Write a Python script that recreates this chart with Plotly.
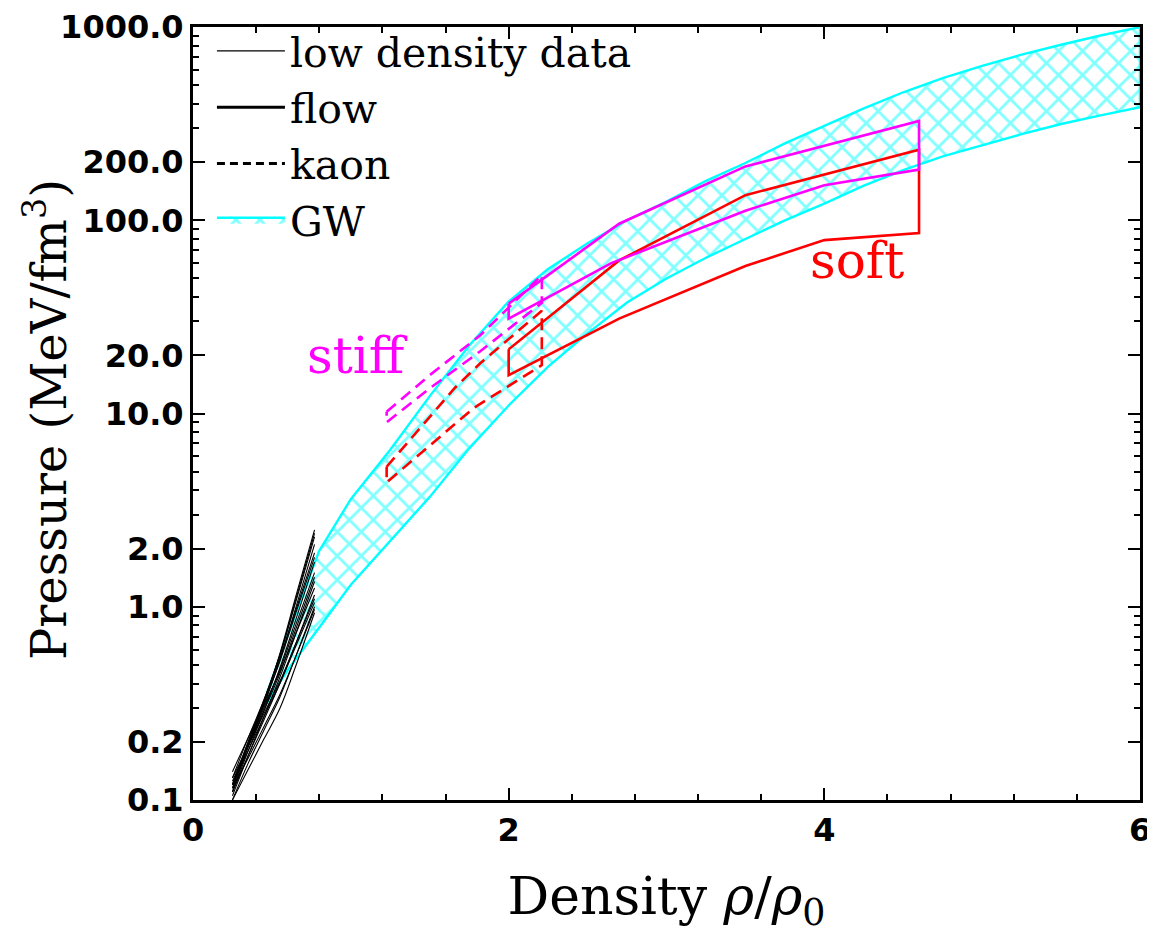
import plotly.graph_objects as go

# ---------------- data ----------------
# GW band (upper / lower boundaries)
gw_x = [0.47, 0.6, 0.8, 1.0, 1.25, 1.5, 1.75, 2.0, 2.25, 2.5, 2.75, 3.0, 3.25, 3.5,
        3.75, 4.0, 4.25, 4.5, 4.75, 5.0, 5.25, 5.5, 5.75, 6.0]
gw_upper = [0.36, 0.71, 1.95, 3.6, 6.5, 12.3, 22.5, 38, 56, 76, 100, 125, 160, 198,
            250, 309, 380, 460, 545, 630, 720, 810, 905, 1000]
gw_lower = [0.32, 0.47, 0.78, 1.3, 2.2, 3.7, 6.6, 11, 17.5, 26, 37.5, 50, 64, 80,
            100, 122, 151, 182, 214, 245, 279, 315, 349, 385]

# low density data curves
ld_x = [0.25, 0.35, 0.45, 0.55, 0.65, 0.77]
ld_curves = [
    [0.11, 0.19, 0.32, 0.57, 1.12, 2.5],
    [0.115, 0.195, 0.325, 0.56, 1.08, 2.4],
    [0.12, 0.20, 0.33, 0.56, 1.05, 2.3],
    [0.115, 0.19, 0.31, 0.53, 0.98, 2.1],
    [0.13, 0.21, 0.33, 0.54, 0.95, 1.9],
    [0.12, 0.20, 0.32, 0.52, 0.92, 1.8],
    [0.11, 0.18, 0.29, 0.48, 0.85, 1.7],
    [0.12, 0.19, 0.30, 0.47, 0.80, 1.5],
    [0.125, 0.19, 0.29, 0.45, 0.76, 1.42],
    [0.105, 0.17, 0.27, 0.43, 0.72, 1.35],
    [0.14, 0.21, 0.31, 0.46, 0.72, 1.25],
    [0.11, 0.17, 0.26, 0.40, 0.64, 1.15],
    [0.13, 0.19, 0.28, 0.41, 0.64, 1.1],
    [0.12, 0.18, 0.27, 0.40, 0.62, 1.05],
    [0.10, 0.155, 0.23, 0.34, 0.55, 1.0],
    [0.115, 0.165, 0.24, 0.35, 0.55, 0.97],
    [0.10, 0.144, 0.207, 0.297, 0.49, 0.93],
]

# flow constraints (solid)
soft_flow_up_x = [2.0, 2.7, 3.5, 4.6]
soft_flow_up_p = [21.5, 62, 135, 232]
soft_flow_lo_x = [2.0, 2.7, 3.5, 4.0, 4.6]
soft_flow_lo_p = [15.8, 31, 58, 79, 86]

stiff_flow_up_x = [2.0, 2.7, 3.5, 4.6]
stiff_flow_up_p = [37, 96, 190, 327]
stiff_flow_lo_x = [2.0, 2.65, 3.5, 4.0, 4.6]
stiff_flow_lo_p = [31, 60, 112, 152, 183]

# kaon constraints (dashed)
soft_kaon_up_x = [1.227, 1.66, 1.82, 2.21]
soft_kaon_up_p = [5.3, 13.6, 18.2, 34]
soft_kaon_lo_x = [1.227, 1.78, 2.21]
soft_kaon_lo_p = [4.4, 10.7, 17.8]

stiff_kaon_up_x = [1.227, 1.5, 1.82, 2.21]
stiff_kaon_up_p = [10.2, 15.8, 25.4, 52]
stiff_kaon_lo_x = [1.227, 1.5, 1.82, 2.21]
stiff_kaon_lo_p = [9.0, 13.5, 21, 37.4]

y_tickvals = [0.1, 0.2, 1, 2, 10, 20, 100, 200, 1000]
y_ticktext = ["0.1", "0.2", "1.0", "2.0", "10.0", "20.0", "100.0", "200.0", "1000.0"]
y_minor = [0.3, 0.4, 0.5, 0.6, 0.7, 0.8, 0.9, 3, 4, 5, 6, 7, 8, 9,
           30, 40, 50, 60, 70, 80, 90, 300, 400, 500, 600, 700, 800, 900]
x_tickvals = [0, 2, 4, 6]
x_ticktext = ["0", "2", "4", "6"]

CYAN = "#00FFFF"
RED = "#FF0000"
MAG = "#FF00FF"
SERIF = "DejaVu Serif"
DASH = "12px,7px"


def polygon(ux, up, lx, lp):
    xs = list(ux) + list(lx[::-1]) + [ux[0]]
    ys = list(up) + list(lp[::-1]) + [up[0]]
    return xs, ys


fig = go.Figure()

# GW band
gx, gy = polygon(gw_x, gw_upper, gw_x, gw_lower)
fig.add_trace(go.Scatter(
    x=gx, y=gy, mode="lines", fill="toself", name="GW",
    line=dict(color=CYAN, width=2.4),
    fillcolor="rgba(255,255,255,0)",
    fillpattern=dict(shape="x", fgcolor=CYAN, bgcolor="rgba(255,255,255,0)",
                     size=17, solidity=0.3),
    legendrank=4,
))

# low density data
for i, c in enumerate(ld_curves):
    fig.add_trace(go.Scatter(
        x=ld_x, y=c, mode="lines", line=dict(color="black", width=1.1, shape="spline"),
        name="low density data", legendgroup="ld", showlegend=(i == 0), legendrank=1,
    ))

# kaon (dashed)
kx, ky = polygon(soft_kaon_up_x, soft_kaon_up_p, soft_kaon_lo_x, soft_kaon_lo_p)
fig.add_trace(go.Scatter(x=kx, y=ky, mode="lines", showlegend=False,
                         line=dict(color=RED, width=2.6, dash=DASH)))
kx, ky = polygon(stiff_kaon_up_x, stiff_kaon_up_p, stiff_kaon_lo_x, stiff_kaon_lo_p)
fig.add_trace(go.Scatter(x=kx, y=ky, mode="lines", showlegend=False,
                         line=dict(color=MAG, width=2.6, dash=DASH)))

# flow (solid)
fx, fy = polygon(soft_flow_up_x, soft_flow_up_p, soft_flow_lo_x, soft_flow_lo_p)
fig.add_trace(go.Scatter(x=fx, y=fy, mode="lines", showlegend=False,
                         line=dict(color=RED, width=2.6)))
fx, fy = polygon(stiff_flow_up_x, stiff_flow_up_p, stiff_flow_lo_x, stiff_flow_lo_p)
fig.add_trace(go.Scatter(x=fx, y=fy, mode="lines", showlegend=False,
                         line=dict(color=MAG, width=2.6)))

# legend-only entries
fig.add_trace(go.Scatter(x=[None], y=[None], mode="lines", name="flow",
                         line=dict(color="black", width=3), legendrank=2))
fig.add_trace(go.Scatter(x=[None], y=[None], mode="lines", name="kaon",
                         line=dict(color="black", width=3, dash="8px,5px"), legendrank=3))

fig.add_annotation(x=1.04, y=1.30, text="stiff", showarrow=False,
                   font=dict(family=SERIF, size=50, color=MAG))
fig.add_annotation(x=4.21, y=1.79, text="soft", showarrow=False,
                   font=dict(family=SERIF, size=50, color=RED))
# y axis title
fig.add_annotation(xref="paper", yref="paper", x=-0.156, y=0.492,
                   text="Pressure (MeV/fm<sup>3</sup>)", textangle=-90,
                   showarrow=False, xanchor="center", yanchor="middle",
                   font=dict(family=SERIF, size=48, color="black"))

tickfont = dict(family="DejaVu Sans", size=32, color="black", weight="bold")

# page body adds an 8px margin, so the figure is made 8px smaller
fig.update_layout(
    width=1147, height=934,
    margin=dict(l=185, r=15, t=10, b=142),
    paper_bgcolor="white", plot_bgcolor="white",
    showlegend=True,
    legend=dict(x=0.02, y=1.012, xanchor="left", yanchor="top",
                font=dict(family=SERIF, size=41, color="black"),
                bgcolor="rgba(255,255,255,0)", traceorder="normal",
                itemwidth=68),
    xaxis=dict(
        range=[0, 6], showline=True, linecolor="black", linewidth=3, mirror="ticks",
        ticks="inside", ticklen=12, tickwidth=2, tickcolor="black",
        tickvals=x_tickvals, ticktext=x_ticktext, tickfont=tickfont,
        showgrid=False, zeroline=False, automargin=False,
        minor=dict(tickmode="linear", tick0=0, dtick=0.4, ticks="inside",
                   ticklen=6, tickwidth=2, tickcolor="black", showgrid=False),
        title=dict(text="Density <i>ρ</i>/<i>ρ</i><sub>0</sub>",
                   font=dict(family=SERIF, size=52, color="black"), standoff=30),
    ),
    yaxis=dict(
        type="log", range=[-1.0005, 3.0005], showline=True, linecolor="black", linewidth=3,
        mirror="ticks", ticks="inside", ticklen=12, tickwidth=2, tickcolor="black",
        tickvals=y_tickvals, ticktext=y_ticktext, tickfont=tickfont,
        showgrid=False, zeroline=False, automargin=False,
        minor=dict(tickmode="array", tickvals=y_minor, ticks="inside",
                   ticklen=6, tickwidth=2, tickcolor="black", showgrid=False),
    ),
)

fig.write_html("out.html")
